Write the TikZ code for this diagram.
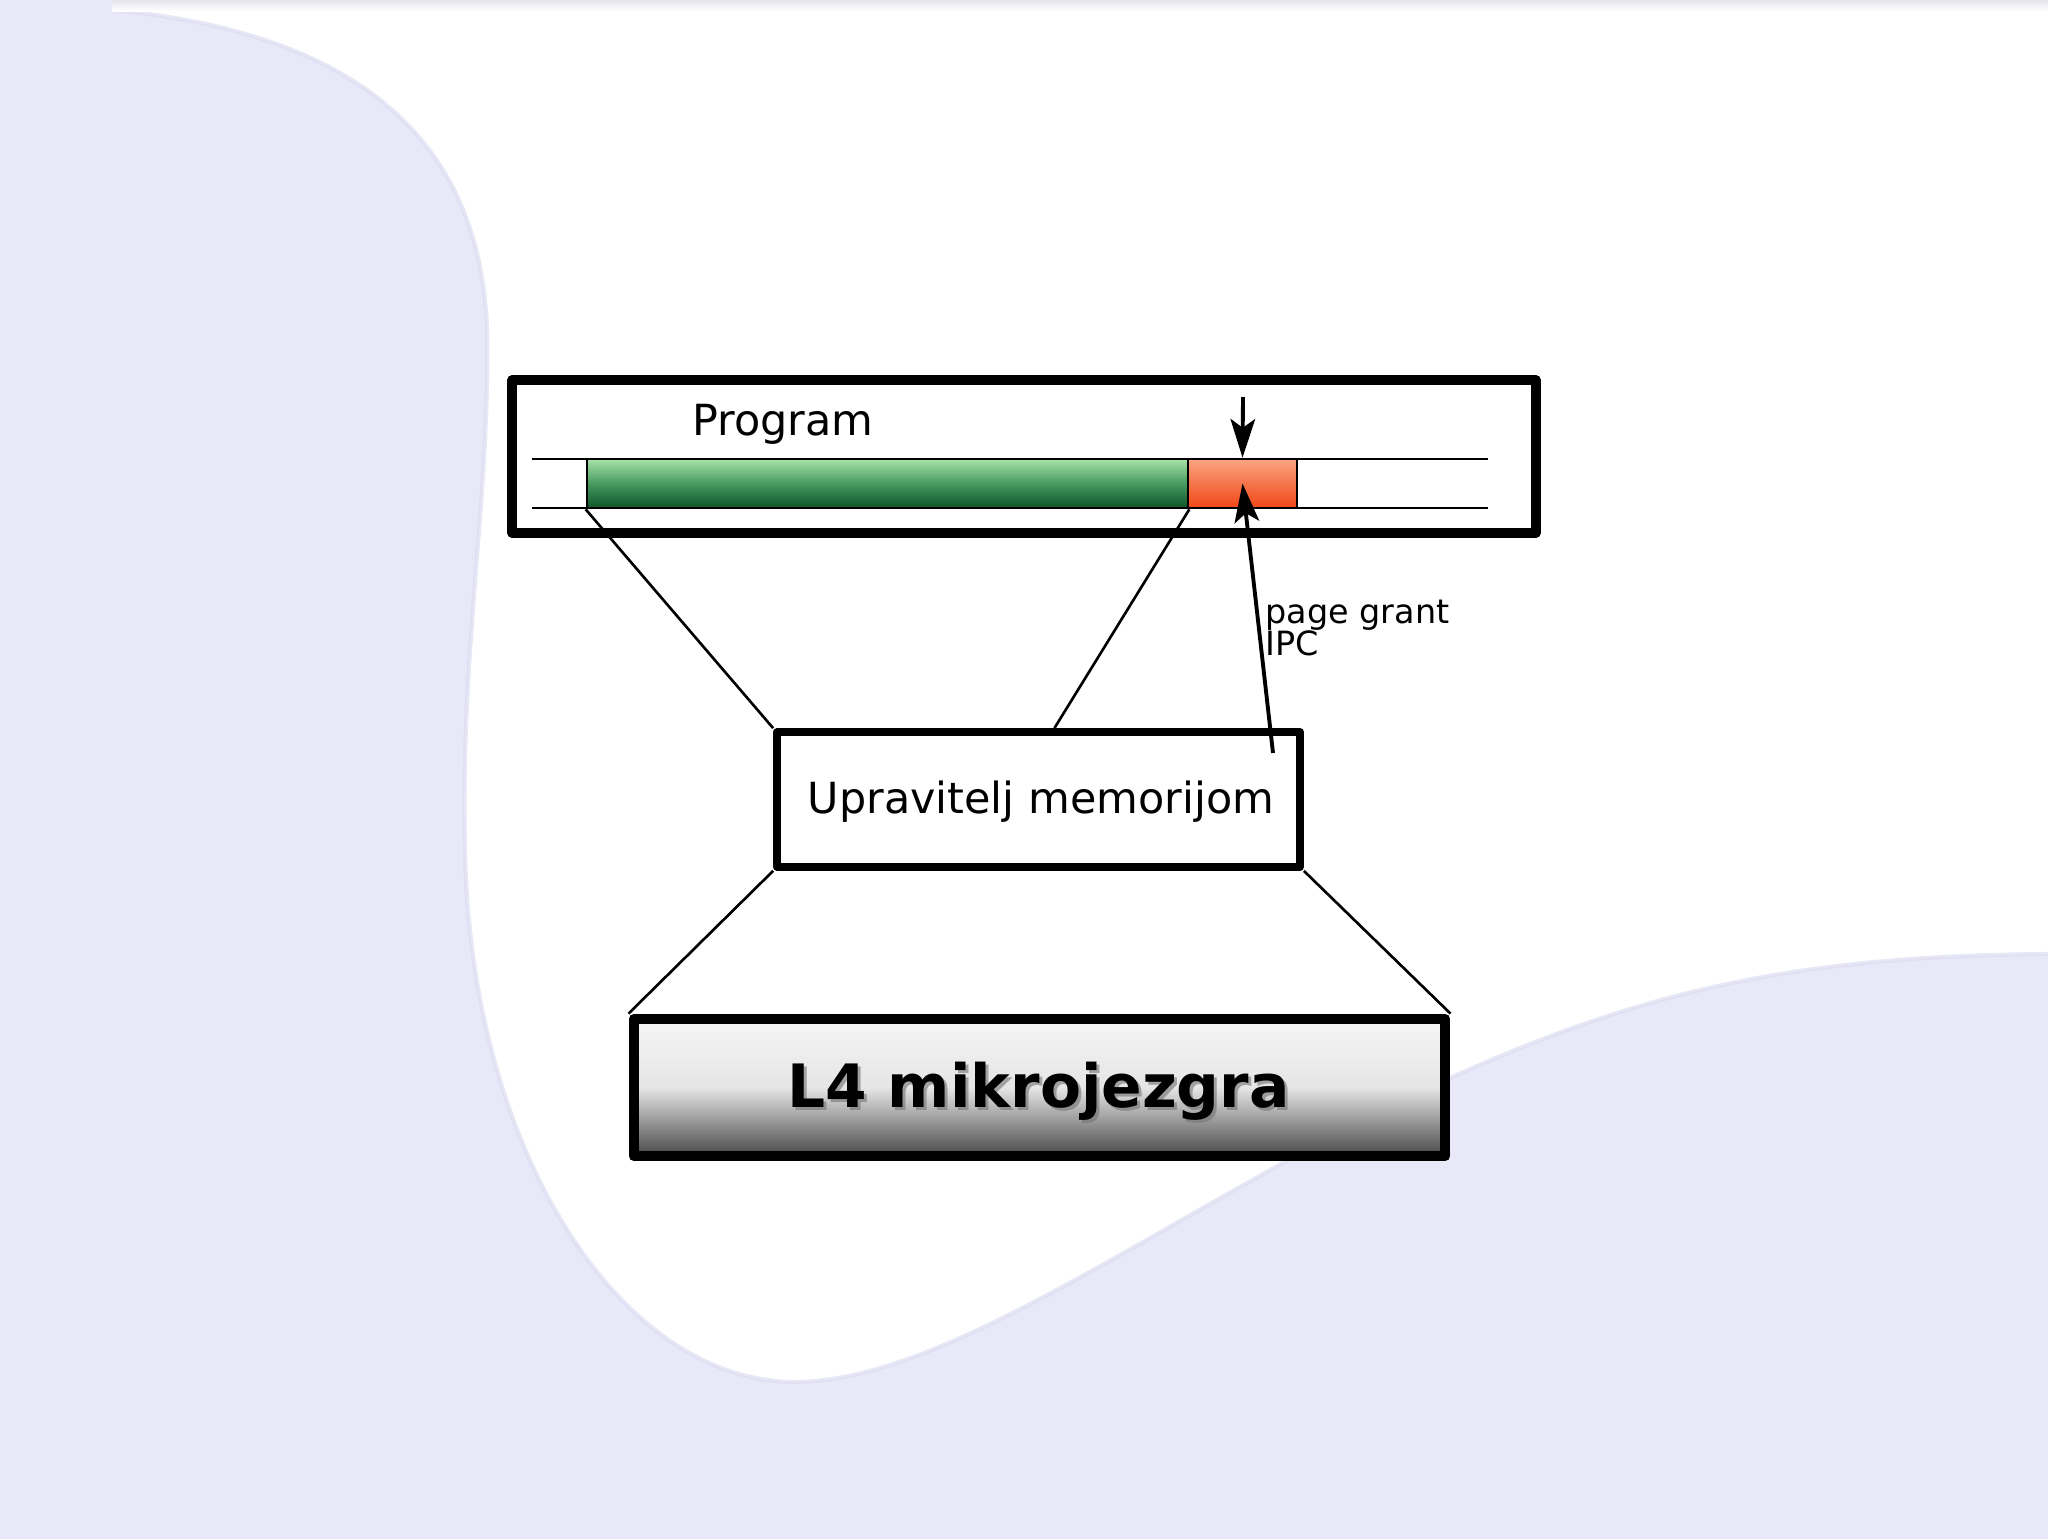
\documentclass[tikz,border=0pt]{standalone}
\usepackage{fontspec}
\setmainfont{DejaVu Sans}
\usetikzlibrary{arrows.meta,fit,calc}
\definecolor{lav}{RGB}{232,232,248}
\definecolor{lavrim}{RGB}{222,222,242}
\definecolor{gtop}{RGB}{168,226,168}
\definecolor{gmid}{RGB}{70,154,96}
\definecolor{gbot}{RGB}{14,84,40}
\definecolor{rtop}{RGB}{250,165,130}
\definecolor{rbot}{RGB}{240,70,22}
\begin{document}
\begin{tikzpicture}[x=0.01cm,y=-0.01cm,
  boxthick/.style={draw=black, line join=round, inner sep=0pt},
  thinline/.style={line width=0.75pt},
  arr/.style={line width=1.1pt, -{Stealth[length=11pt,width=7pt,inset=2.5pt]}},
  lbl/.style={inner sep=0pt, anchor=base}
]
\useasboundingbox (0,0) rectangle (2048,1539);
% background
\fill[lav] (0,0) rectangle (2048,1539);
\fill[white] (2048,10) -- (2048,954)
  .. controls (1800,956) and (1650,990) .. (1468,1070)
  .. controls (1200,1188) and (960,1382) .. (795,1382)
  .. controls (620,1382) and (470,1150) .. (465,850)
  .. controls (460,650) and (490,500) .. (487,330)
  .. controls (480,120) and (330,30) .. (112,10) -- cycle;
\draw[lavrim, line width=1.2pt, opacity=0.7] (2048,954)
  .. controls (1800,956) and (1650,990) .. (1468,1070)
  .. controls (1200,1188) and (960,1382) .. (795,1382)
  .. controls (620,1382) and (470,1150) .. (465,850)
  .. controls (460,650) and (490,500) .. (487,330)
  .. controls (480,120) and (330,30) .. (112,10);
\shade[top color=lav!85!gray!70!white, bottom color=white] (112,0) rectangle (2048,11);

% memory bar
\coordinate (barTL) at (532,459);
\coordinate (barTR) at (1488,459);
\coordinate (barBL) at (532,508);
\coordinate (barBR) at (1488,508);
\draw[thinline] (barTL) -- (barTR);
\draw[thinline] (barBL) -- (barBR);
\node[fit={(587,459) (1188,508)}, inner sep=0pt, draw, thinline, top color=gtop, bottom color=gbot, middle color=gmid] (green) {};
\node[fit={(1188,459) (1297,508)}, inner sep=0pt, draw, thinline, top color=rtop, bottom color=rbot] (red) {};

% boxes
\node[fit={(512,380) (1536,533)}, boxthick, line width=2.6pt] (prog) {};
\node[fit={(777,732) (1300,867)}, boxthick, line width=2.2pt, fill=white] (mm) {};
\node[fit={(634,1019) (1445,1156)}, boxthick, line width=3.1pt, top color=black!4, bottom color=black!72, middle color=black!10] (l4) {};

% connectors
\draw[thinline] (green.south west) -- (mm.north west);
\draw[thinline] (green.south east) -- ($(mm.north west)!0.53!(mm.north east)$);
\draw[thinline] (mm.south west) -- (l4.north west);
\draw[thinline] (mm.south east) -- (l4.north east);

% arrows
\coordinate (dn) at (1243,397);
\draw[arr] (dn) -- (red.north);
\coordinate (upstart) at (1273,753);
\draw[arr] (upstart) -- (red.center);

% texts
\node[lbl, font=\fontsize{12.2}{14}\selectfont] (tprog) at (783,435) {Program};
\node[lbl, font=\fontsize{12.2}{14}\selectfont] (tmm) at (1041,813) {Upravitelj memorijom};
\node[lbl, font=\fontsize{17}{20}\selectfont\bfseries, text=black!55, opacity=0.6] (tl4s) at (1041.5,1110) {L4 mikrojezgra};
\node[lbl, font=\fontsize{17}{20}\selectfont\bfseries] (tl4) at (1038.5,1107) {L4 mikrojezgra};
\node[inner sep=0pt, anchor=base west, align=left, font=\fontsize{9.5}{9.1}\selectfont] (tpg) at (1265,655) {page grant\\IPC};
\end{tikzpicture}
\end{document}
